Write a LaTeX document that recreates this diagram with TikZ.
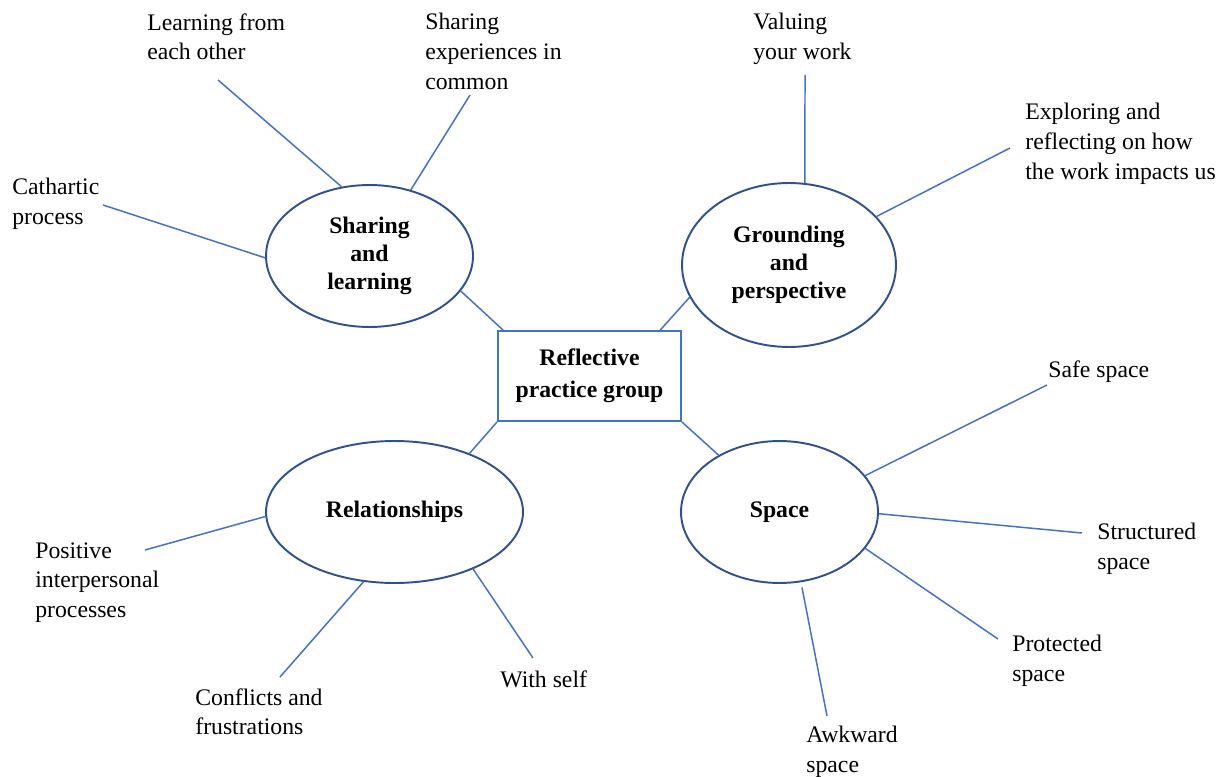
\documentclass[tikz,border=0pt]{standalone}
\usepackage{fontspec}
\setmainfont{Liberation Serif}
\usetikzlibrary{shapes.geometric}
\definecolor{linkblue}{HTML}{4472C4}
\definecolor{rimblue}{HTML}{2F528F}

\begin{document}
\begin{tikzpicture}[x=0.02cm, y=-0.02cm,
  topic/.style={ellipse, draw=rimblue, line width=1.1pt, inner sep=0pt,
    align=center, font=\fontsize{13.5}{16}\selectfont\bfseries},
  hub/.style={rectangle, draw=linkblue, line width=1.1pt, inner sep=0pt,
    minimum width=3.66cm, minimum height=1.8cm, align=center,
    font=\fontsize{13.5}{18.5}\selectfont\bfseries},
  leaf/.style={anchor=north west, inner sep=0pt, align=left,
    font=\fontsize{13.5}{17}\selectfont},
  link/.style={draw=linkblue, line width=0.85pt}]

\useasboundingbox (0,0) rectangle (1223,777);

% ---- centre and the four themes --------------------------------------------
\node[hub] (rpg) at (589.5,376) {Reflective\\practice group};
\node[topic, minimum width=4.14cm, minimum height=2.84cm] (share) at (369.5,256)
  {Sharing\\and\\learning};
\node[topic, minimum width=4.28cm, minimum height=3.28cm] (ground) at (789,265)
  {Grounding\\and\\perspective};
\node[topic, minimum width=5.14cm, minimum height=2.84cm] (relat) at (394.5,512)
  {Relationships};
\node[topic, minimum width=3.94cm, minimum height=2.84cm] (space) at (779.5,512)
  {Space};

\draw[link] (rpg.152) -- (share.-21.8);
\draw[link] (rpg.33.7) -- (ground.198.4);
\draw[link] (rpg.south west) -- (relat.38.7);
\draw[link] (rpg.south east) -- (space.137.6);

% ---- sub-themes -------------------------------------------------------------
\node[leaf] (learn) at (147,13) {Learning from\\each other};
\node[leaf] (common) at (425,13) {Sharing\\experiences in\\common};
\node[leaf] (cathar) at (12,178) {Cathartic\\process};
\node[leaf] (value) at (753,13) {Valuing\\your work};
\node[leaf] (explore) at (1025,103) {Exploring and\\reflecting on how\\the work impacts us};
\node[leaf] (safe) at (1048,360) {Safe space};
\node[leaf] (struct) at (1097,523) {Structured\\space};
\node[leaf] (protect) at (1012,635) {Protected\\space};
\node[leaf] (awk) at (806,726) {Awkward\\space};
\node[leaf] (posit) at (35,542) {Positive\\interpersonal\\processes};
\node[leaf] (confl) at (195,688) {Conflicts and\\frustrations};
\node[leaf] (self) at (500,670) {With self};

% free ends of the spokes
\coordinate (learnend) at (218,80);
\coordinate (commonend) at (470,95);
\coordinate (catharend) at (103,205);
\coordinate (valueend) at (805,75);
\coordinate (exploreend) at (1010,148);
\coordinate (safeend) at (1047,385);
\coordinate (structend) at (1082,533);
\coordinate (protectend) at (998,639);
\coordinate (awkend) at (827,716);
\coordinate (positend) at (145,550);
\coordinate (conflend) at (280,677);
\coordinate (selfend) at (533,658);

\draw[link] (share.112.6) -- (learnend);
\draw[link] (share.58.5) -- (commonend);
\draw[link] (share.181) -- (catharend);
\draw[link] (ground.79) -- (valueend);
\draw[link] (ground.29.7) -- (exploreend);
\draw[link] (space.23.2) -- (safeend);
\draw[link] (space.-1.2) -- (structend);
\draw[link] (space.-23.2) -- (protectend);
\draw[link,shorten <=3pt] (space.-73.5) -- (awkend);
\draw[link] (relat.182.4) -- (positend);
\draw[link] (relat.246) -- (conflend);
\draw[link] (relat.-36) -- (selfend);

\end{tikzpicture}
\end{document}
